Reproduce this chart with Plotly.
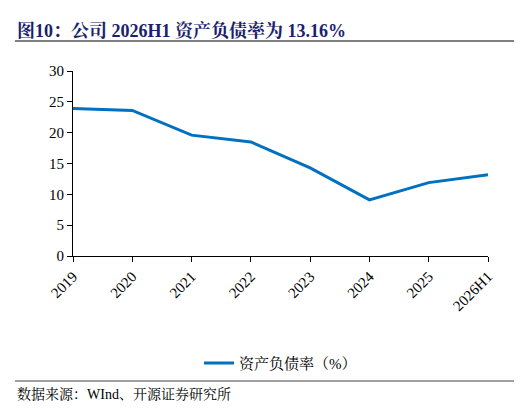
import plotly.graph_objects as go

years = ["2019", "2020", "2021", "2022", "2023", "2024", "2025", "2026H1"]
debt_ratio = [23.9, 23.6, 19.6, 18.5, 14.3, 9.1, 11.9, 13.16]
y_ticks = [0, 5, 10, 15, 20, 25, 30]

serif = "Times New Roman, Liberation Serif, Noto Serif CJK SC, Noto Sans CJK SC, serif"

fig = go.Figure(go.Scatter(
    x=years, y=debt_ratio, mode="lines",
    line=dict(color="#0070C0", width=3),
    name="资产负债率（%）",
))

fig.update_layout(
    width=522, height=408,
    paper_bgcolor="white", plot_bgcolor="white",
    margin=dict(l=65, r=42, t=63, b=160),
    font=dict(family=serif, size=15, color="black"),
    showlegend=True,
    legend=dict(orientation="h", x=0.5, xanchor="center", y=-0.58, yanchor="middle",
                font=dict(size=15)),
    annotations=[
        dict(text="<b>图10：公司 2026H1 资产负债率为 13.16%</b>", x=0, y=1, xref="paper", yref="paper",
             xanchor="left", yanchor="bottom", xshift=-58, yshift=28, showarrow=False,
             font=dict(size=18, color="#1a1f6e", family=serif)),
        dict(text="数据来源：WInd、开源证券研究所", x=0, y=0, xref="paper", yref="paper",
             xanchor="left", yanchor="top", xshift=-58, yshift=-128, showarrow=False,
             font=dict(size=14, color="black", family=serif)),
    ],
    shapes=[
        dict(type="line", xref="paper", yref="paper", x0=-0.14, x1=1.1, y0=1.162, y1=1.162,
             line=dict(color="#808080", width=2)),
        dict(type="line", xref="paper", yref="paper", x0=-0.14, x1=1.1, y0=-0.676, y1=-0.676,
             line=dict(color="#808080", width=1.5)),
    ],
)

fig.update_xaxes(showline=True, linecolor="black", linewidth=1, ticks="outside",
                 ticklen=5, tickcolor="black", tickangle=-45, showgrid=False,
                 tickfont=dict(size=15))
fig.update_yaxes(range=[0, 30], tickvals=y_ticks, showline=True, linecolor="black",
                 linewidth=1, ticks="outside", ticklen=5, tickcolor="black",
                 showgrid=False, tickfont=dict(size=15))

fig.write_html("out.html")
